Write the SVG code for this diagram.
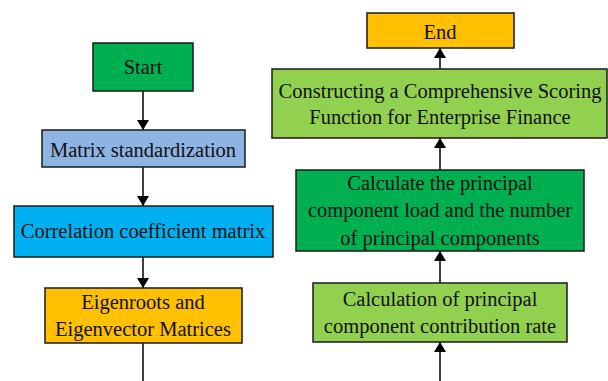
<svg xmlns="http://www.w3.org/2000/svg" width="608" height="381" viewBox="0 0 608 381">
<defs>
<style>
.box{stroke:#1a1a1a;stroke-width:1.5}
.t{font-family:"Liberation Serif","Times New Roman",serif;font-size:20.5px;fill:#111;text-anchor:middle}
.c{stroke:#000;stroke-width:1.5;fill:none}
</style>
<marker id="ah" viewBox="0 0 10 12" refX="10" refY="6" markerWidth="10" markerHeight="12" markerUnits="userSpaceOnUse" orient="auto">
<path d="M0,0 L10,6 L0,12 Z" fill="#000"/>
</marker>
</defs>
<rect width="608" height="381" fill="#fff"/>
<g id="connectors">
<line class="c" x1="143" y1="91" x2="143" y2="130" marker-end="url(#ah)"/>
<line class="c" x1="143" y1="167" x2="143" y2="206" marker-end="url(#ah)"/>
<line class="c" x1="143" y1="257" x2="143" y2="288" marker-end="url(#ah)"/>
<line class="c" x1="143" y1="343" x2="143" y2="381"/>
<line class="c" x1="440" y1="381" x2="440" y2="342" marker-end="url(#ah)"/>
<line class="c" x1="440" y1="283" x2="440" y2="251" marker-end="url(#ah)"/>
<line class="c" x1="440" y1="170" x2="440" y2="138" marker-end="url(#ah)"/>
<line class="c" x1="440" y1="69" x2="440" y2="48" marker-end="url(#ah)"/>
</g>
<g id="start">
<rect class="box" x="93" y="43" width="100" height="48" fill="#00B050"/>
<text class="t" x="143" y="74">Start</text>
</g>
<g id="matrix-standardization">
<rect class="box" x="42" y="130" width="203" height="37" fill="#8EB4E3"/>
<text class="t" x="143" y="157">Matrix standardization</text>
</g>
<g id="correlation">
<rect class="box" x="14" y="206" width="259" height="51" fill="#00B0F0"/>
<text class="t" x="143" y="238">Correlation coefficient matrix</text>
</g>
<g id="eigen">
<rect class="box" x="45" y="288" width="197" height="55" fill="#FFC000"/>
<text class="t" x="143" y="309">Eigenroots and</text>
<text class="t" x="143" y="336">Eigenvector Matrices</text>
</g>
<g id="contribution">
<rect class="box" x="313" y="283" width="254" height="59" fill="#92D050"/>
<text class="t" x="440" y="306">Calculation of principal</text>
<text class="t" x="440" y="333">component contribution rate</text>
</g>
<g id="load">
<rect class="box" x="296" y="170" width="288" height="81" fill="#00B050"/>
<text class="t" x="440" y="190">Calculate the principal</text>
<text class="t" x="440" y="217">component load and the number</text>
<text class="t" x="440" y="245">of principal components</text>
</g>
<g id="scoring">
<rect class="box" x="272" y="69" width="335" height="69" fill="#92D050"/>
<text class="t" x="440" y="98">Constructing a Comprehensive Scoring</text>
<text class="t" x="440" y="124">Function for Enterprise Finance</text>
</g>
<g id="end">
<rect class="box" x="367" y="13" width="147" height="35" fill="#FFC000"/>
<text class="t" x="440" y="39">End</text>
</g>
</svg>
